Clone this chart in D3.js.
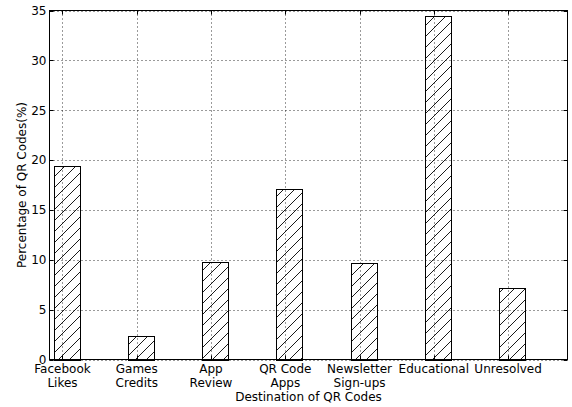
<!DOCTYPE html>
<html>
<head>
<meta charset="utf-8">
<script src="https://cdn.jsdelivr.net/npm/d3@7"></script>
<style>
  html, body { margin: 0; padding: 0; background: #fff; }
  svg { display: block; font-family: "DejaVu Sans", sans-serif; }
</style>
</head>
<body>
<svg id="chart" width="572" height="407"></svg>
<script>
// Share of scanned QR codes by destination
const categories = [
  ["Facebook", "Likes"],
  ["Games", "Credits"],
  ["App", "Review"],
  ["QR Code", "Apps"],
  ["Newsletter", "Sign-ups"],
  ["Educational"],
  ["Unresolved"]
];
const values = [19.4, 2.4, 9.8, 17.1, 9.7, 34.4, 7.2];
const yTicks = [0, 5, 10, 15, 20, 25, 30, 35];
const yLabel = "Percentage of QR Codes(%)";
const xLabel = "Destination of QR Codes";

const svg = d3.select("#chart");
const plotLeft = 49.5, plotRight = 567.5, plotTop = 10.5, plotBottom = 359.5;

// Category positions on a linear index axis
const x = d3.scaleLinear().domain([-0.175, 6.8]).range([plotLeft, plotRight]);
const y = d3.scaleLinear().domain([0, 35]).range([plotBottom, plotTop]);
const barOffset = -0.12, barWidth = 0.35;

// Hatch pattern (forward slashes)
const defs = svg.append("defs");
const pat = defs.append("pattern")
  .attr("id", "hatch")
  .attr("patternUnits", "userSpaceOnUse")
  .attr("width", 11).attr("height", 11);
pat.append("path")
  .attr("d", "M-2,13 L13,-2 M-2,2 L2,-2 M9,13 L13,9")
  .attr("stroke", "#000").attr("stroke-width", 0.9).attr("fill", "none");

// Grid lines
const grid = svg.append("g");
yTicks.forEach(t => {
  grid.append("line")
    .attr("x1", plotLeft).attr("x2", plotRight)
    .attr("y1", Math.round(y(t)) + 0.5).attr("y2", Math.round(y(t)) + 0.5)
    .attr("stroke", "#000").attr("stroke-width", 0.8)
    .attr("stroke-dasharray", "1,3");
});
categories.forEach((c, i) => {
  const px = Math.round(x(i)) + 0.5;
  grid.append("line")
    .attr("x1", px).attr("x2", px)
    .attr("y1", plotTop).attr("y2", plotBottom)
    .attr("stroke", "#000").attr("stroke-width", 0.8)
    .attr("stroke-dasharray", "1,3");
});

// Bars
svg.append("g").selectAll("rect")
  .data(values)
  .join("rect")
  .attr("x", (d, i) => Math.round(x(i + barOffset)) + 0.5)
  .attr("width", (d, i) => Math.round(x(i + barOffset + barWidth)) - Math.round(x(i + barOffset)))
  .attr("y", d => Math.round(y(d)) + 0.5)
  .attr("height", d => Math.round(y(0)) - Math.round(y(d)))
  .attr("fill", "url(#hatch)")
  .attr("stroke", "#000").attr("stroke-width", 1);

// Frame
svg.append("rect")
  .attr("x", plotLeft).attr("y", plotTop)
  .attr("width", plotRight - plotLeft).attr("height", plotBottom - plotTop)
  .attr("fill", "none").attr("stroke", "#000").attr("stroke-width", 1);

// Inward tick marks on all four sides
const ticks = svg.append("g").attr("stroke", "#000").attr("stroke-width", 1);
yTicks.forEach(t => {
  const py = Math.round(y(t)) + 0.5;
  ticks.append("line").attr("x1", plotLeft).attr("x2", plotLeft + 4).attr("y1", py).attr("y2", py);
  ticks.append("line").attr("x1", plotRight).attr("x2", plotRight - 4).attr("y1", py).attr("y2", py);
});
categories.forEach((c, i) => {
  const px = Math.round(x(i)) + 0.5;
  ticks.append("line").attr("x1", px).attr("x2", px).attr("y1", plotBottom).attr("y2", plotBottom - 4);
  ticks.append("line").attr("x1", px).attr("x2", px).attr("y1", plotTop).attr("y2", plotTop + 4);
});

// Y tick labels
svg.append("g").selectAll("text")
  .data(yTicks)
  .join("text")
  .attr("x", plotLeft - 3)
  .attr("y", d => y(d))
  .attr("dy", "0.36em")
  .attr("text-anchor", "end")
  .attr("font-size", 12)
  .text(d => d);

// X tick labels (multi-line)
const xl = svg.append("g").selectAll("text")
  .data(categories)
  .join("text")
  .attr("x", (d, i) => x(i))
  .attr("y", 373)
  .attr("text-anchor", "middle")
  .attr("font-size", 12);
xl.each(function(lines) {
  const t = d3.select(this);
  lines.forEach((ln, j) => {
    t.append("tspan")
      .attr("x", t.attr("x"))
      .attr("dy", j === 0 ? 0 : 14)
      .text(ln);
  });
});

// Axis titles
svg.append("text")
  .attr("x", (plotLeft + plotRight) / 2)
  .attr("y", 401)
  .attr("text-anchor", "middle")
  .attr("font-size", 12)
  .text(xLabel);

svg.append("text")
  .attr("transform", `translate(26,${(plotTop + plotBottom) / 2}) rotate(-90)`)
  .attr("text-anchor", "middle")
  .attr("font-size", 12)
  .text(yLabel);
</script>
</body>
</html>
